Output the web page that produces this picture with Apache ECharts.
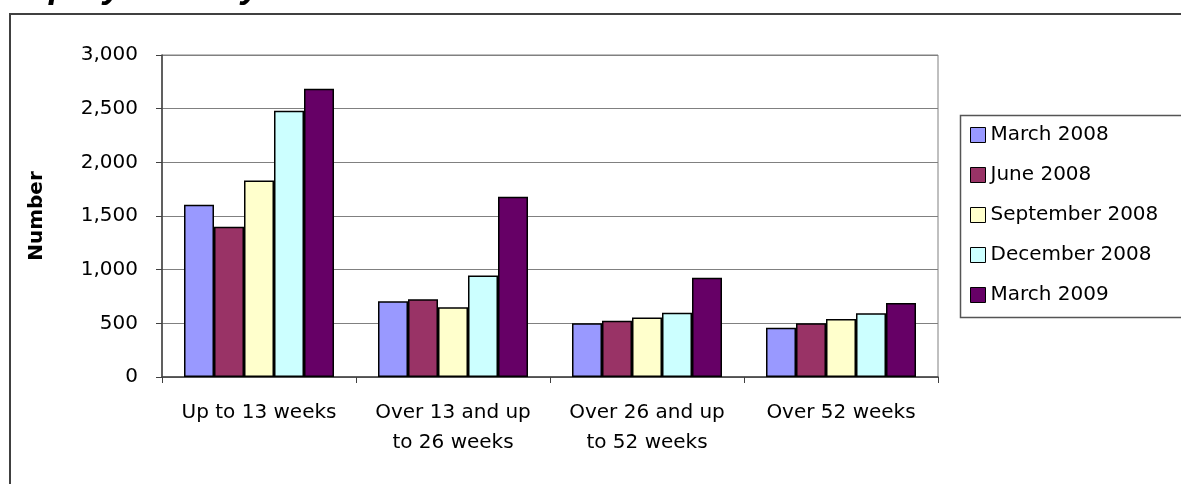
<!DOCTYPE html>
<html><head><meta charset="utf-8">
<script src="https://cdn.jsdelivr.net/npm/echarts@6/dist/echarts.min.js"></script>
<style>html,body{margin:0;padding:0;background:#fff;overflow:hidden}#c{width:1181px;height:484px}</style>
</head><body><div id="c"></div>
<script>
const categories = ['Up to 13 weeks', 'Over 13 and up\nto 26 weeks', 'Over 26 and up\nto 52 weeks', 'Over 52 weeks'];
const seriesNames = ['March 2008', 'June 2008', 'September 2008', 'December 2008', 'March 2009'];
const march2008 = [1605, 705, 500, 460];
const june2008 = [1400, 725, 525, 500];
const september2008 = [1830, 650, 555, 540];
const december2008 = [2480, 945, 598, 595];
const march2009 = [2685, 1680, 925, 690];
const seriesValues = [march2008, june2008, september2008, december2008, march2009];
const colors = ['#9999FF', '#993366', '#FFFFCC', '#CCFFFF', '#660066'];
const yMin = 0, yMax = 3000, yStep = 500;
const titleText = 'Unemployment by duration';

const font = 'DejaVu Sans';
const chart = echarts.init(document.getElementById('c'));
chart.setOption({
  animation: false,
  backgroundColor: '#ffffff',
  graphic: [
    { type: 'rect', shape: { x: 10, y: 14, width: 1250, height: 520 }, style: { fill: 'none', stroke: '#404040', lineWidth: 2 }, z: 0 },
    { type: 'rect', shape: { x: 960.5, y: 115.5, width: 260, height: 202 }, style: { fill: '#fff', stroke: '#555', lineWidth: 1.5 }, z: 1 },
    { type: 'text', left: -51, top: -31, style: { text: titleText, fontSize: 36, fontWeight: 'bold', fontStyle: 'italic', fontFamily: 'Liberation Sans', fill: '#000' }, z: 2 }
  ],
  legend: {
    orient: 'vertical',
    left: 970, top: 125,
    padding: 0,
    itemWidth: 15, itemHeight: 15, itemGap: 20,
    icon: 'rect',
    itemStyle: { borderColor: '#000', borderWidth: 1 },
    textStyle: { fontFamily: font, fontSize: 20, color: '#000', lineHeight: 20 },
    data: seriesNames
  },
  grid: { left: 162, top: 55, width: 776, height: 322, show: true, borderColor: '#808080', borderWidth: 1, backgroundColor: 'transparent' },
  xAxis: {
    type: 'category',
    data: categories,
    axisLine: { lineStyle: { color: '#404040', width: 1.5 } },
    axisTick: { show: true, interval: 0, length: 6, lineStyle: { color: '#404040' } },
    axisLabel: { interval: 0, margin: 21, fontFamily: font, fontSize: 20, lineHeight: 30, color: '#000' }
  },
  yAxis: {
    type: 'value', min: yMin, max: yMax, interval: yStep,
    name: 'Number', nameLocation: 'middle', nameRotate: 90, nameGap: 115,
    nameTextStyle: { fontFamily: font, fontSize: 20, fontWeight: 'bold', color: '#000' },
    axisLine: { show: true, lineStyle: { color: '#404040', width: 1.5 } },
    axisTick: { show: true, length: 6, lineStyle: { color: '#404040' } },
    splitLine: { lineStyle: { color: '#808080', width: 1 } },
    axisLabel: { margin: 24, fontFamily: font, fontSize: 20, color: '#000', formatter: v => v.toLocaleString('en-US') }
  },
  series: seriesNames.map((n, i) => ({
    name: n, type: 'bar', data: seriesValues[i], barWidth: 30, barGap: '0%',
    itemStyle: { color: colors[i], borderColor: '#000', borderWidth: 1.5 }
  }))
});
</script></body></html>
